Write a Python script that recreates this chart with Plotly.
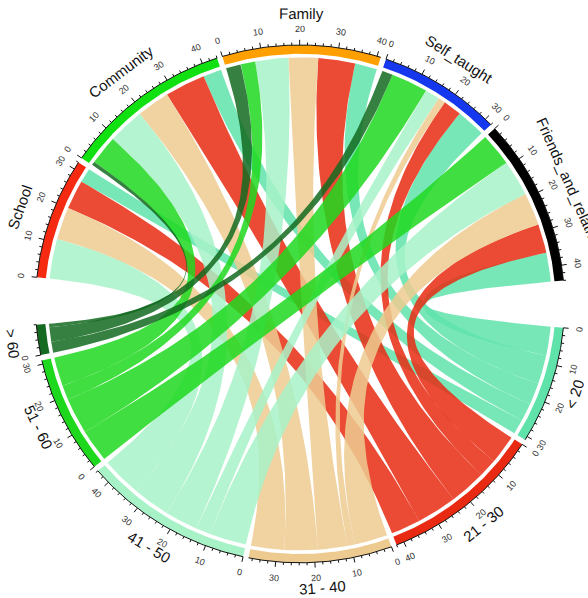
import numpy as np
import plotly.graph_objects as go

# Sectors around the circle
ages = ["< 20", "21 - 30", "31 - 40", "41 - 50", "51 - 60", "> 60"]
sources = ["School", "Community", "Family", "Self_taught", "Friends_and_relatives"]

# Counts per age group, one value per source (same order as `sources`)
lt20 = [4, 5, 6, 8, 8]
a21_30 = [8, 11, 10, 5, 8]
a31_40 = [9, 9, 8, 2, 9]
a41_50 = [11, 10, 9, 4, 10]
a51_60 = [0, 8, 4, 10, 9]
gt60 = [0, 1, 4, 3, 0]

age_colors = ["#5FE3AB", "#E82A12", "#EDCB90", "#A8F2C8", "#1ED81E", "#136A20"]
source_colors = ["#F52A10", "#11E011", "#FFA000", "#1538EE", "#000000"]
LINK_ALPHA = 0.85

mat = np.array([lt20, a21_30, a31_40, a41_50, a51_60, gt60], dtype=float)
n_age, n_src = mat.shape
total = mat.sum()

# Angles in degrees, measured clockwise from 9 o'clock
START, BIG_GAP, GAP = 5.9, 10.5, 1.2
deg = (360 - 2 * BIG_GAP - (n_age + n_src - 2) * GAP) / (2 * total)

sectors = []  # name, color, start angle, size
phi = START
for i, s in enumerate(sources):
    size = mat[:, i].sum()
    sectors.append((s, source_colors[i], phi, size))
    phi += size * deg + (GAP if i < n_src - 1 else BIG_GAP)
for j, a in enumerate(ages):
    size = mat[j].sum()
    sectors.append((a, age_colors[j], phi, size))
    phi += size * deg + GAP

# Radii (axis line = 1)
R_AXIS, R_TRACK_IN, R_LINK = 1.0, 0.966, 0.952
R_MAJOR, R_MINOR = 1.02, 1.01
R_TICKLAB = 1.062
R_LABEL_TOP, R_LABEL_BOTTOM = 1.122, 1.097

# pixel mapping of the unit circle
CX, CY, RX, RY = 300.0, 303.9, 264.5, 258.9
W, H = 588, 598


def pol(r, ph):
    t = np.radians(180.0 - np.asarray(ph, dtype=float))
    return r * np.cos(t), r * np.sin(t)


def rot(ph):
    return ph - 90 if ph < 180 else ph - 270


def hex_rgba(h, a):
    h = h.lstrip("#")
    return "rgba(%d,%d,%d,%.3f)" % (int(h[0:2], 16), int(h[2:4], 16), int(h[4:6], 16), a)


fig = go.Figure()

# link end positions inside each sector
col_pos, row_pos = {}, {}
for i in range(n_src):
    off = sectors[i][2]
    for j in reversed(range(n_age)):
        v = mat[j, i]
        if v > 0:
            col_pos[(j, i)] = (off, off + v * deg)
            off += v * deg
for j in range(n_age):
    off = sectors[n_src + j][2]
    for i in reversed(range(n_src)):
        v = mat[j, i]
        if v > 0:
            row_pos[(j, i)] = (off, off + v * deg)
            off += v * deg


def bezier(p0, p2, n=80):
    t = np.linspace(0, 1, n)[:, None]
    return (1 - t) ** 2 * p0 + t ** 2 * p2


def arc(r, a, b, n=40):
    x, y = pol(r, np.linspace(a, b, n))
    return np.column_stack([x, y])


# ribbons, younger groups drawn first
for j in range(n_age):
    for i in range(n_src):
        if mat[j, i] <= 0:
            continue
        a1, a2 = row_pos[(j, i)]
        b1, b2 = col_pos[(j, i)]
        A = arc(R_LINK, a1, a2)
        B = arc(R_LINK, b1, b2)
        pts = np.vstack([A, bezier(A[-1], B[0]), B, bezier(B[-1], A[0])])
        fig.add_trace(go.Scatter(
            x=pts[:, 0], y=pts[:, 1], mode="lines", fill="toself",
            fillcolor=hex_rgba(age_colors[j], LINK_ALPHA),
            line=dict(width=0), hoverinfo="skip"))

# outer tracks, axis lines, ticks and labels
tick_x, tick_y = [], []
ax_x, ax_y = [], []
annotations = []
for name, color, st, size in sectors:
    en = st + size * deg
    outer = arc(R_AXIS, st, en, 80)
    inner = arc(R_TRACK_IN, en, st, 80)
    poly = np.vstack([outer, inner, outer[:1]])
    fig.add_trace(go.Scatter(
        x=poly[:, 0], y=poly[:, 1], mode="lines", fill="toself",
        fillcolor=color, line=dict(width=0), hoverinfo="skip"))
    ax_x += list(outer[:, 0]) + [None]
    ax_y += list(outer[:, 1]) + [None]
    for u in range(0, int(size) + 1, 2):
        ph = st + u * deg
        r2 = R_MAJOR if u % 10 == 0 else R_MINOR
        x0, y0 = pol(R_AXIS, ph)
        x1, y1 = pol(r2, ph)
        tick_x += [x0, x1, None]
        tick_y += [y0, y1, None]
        if u % 10 == 0:
            xt, yt = pol(R_TICKLAB, ph)
            annotations.append(dict(
                x=xt, y=yt, text=str(u), showarrow=False, textangle=rot(ph),
                xanchor="center", yanchor="middle",
                font=dict(family="Liberation Sans, Arial", size=9, color="#333333")))
    mid = (st + en) / 2
    xl, yl = pol(R_LABEL_TOP if mid < 180 else R_LABEL_BOTTOM, mid)
    annotations.append(dict(
        x=xl, y=yl, text=name, showarrow=False, textangle=rot(mid),
        xanchor="center", yanchor="middle",
        font=dict(family="Liberation Sans, Arial", size=15, color="#111111")))

fig.add_trace(go.Scatter(x=ax_x, y=ax_y, mode="lines",
                         line=dict(color="#111111", width=1), hoverinfo="skip"))
fig.add_trace(go.Scatter(x=tick_x, y=tick_y, mode="lines",
                         line=dict(color="#111111", width=1), hoverinfo="skip"))

fig.update_layout(
    width=W, height=H, autosize=False,
    margin=dict(l=0, r=0, t=0, b=0),
    paper_bgcolor="white", plot_bgcolor="white",
    showlegend=False, annotations=annotations,
    xaxis=dict(visible=False, range=[-CX / RX, (W - CX) / RX], fixedrange=True),
    yaxis=dict(visible=False, range=[-(H - CY) / RY, CY / RY], fixedrange=True),
)

fig.write_html("out.html", config={"displayModeBar": False})
